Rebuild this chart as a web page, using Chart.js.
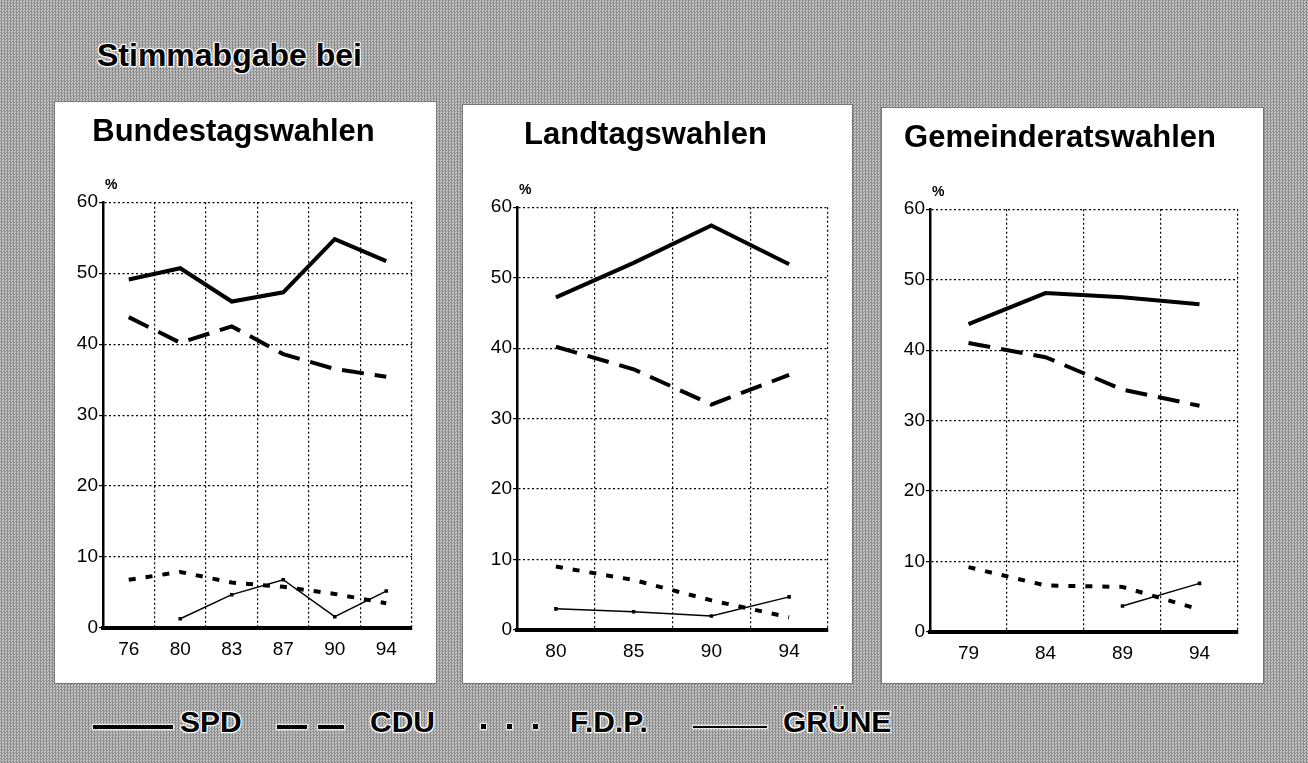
<!DOCTYPE html>
<html>
<head>
<meta charset="utf-8">
<script src="https://cdn.jsdelivr.net/npm/chart.js@4/dist/chart.umd.min.js"></script>
<style>
  html, body { margin: 0; padding: 0; }
  body {
    width: 1308px; height: 763px; overflow: hidden; position: relative;
    background-color: #a8a8a8;
    background-image: repeating-conic-gradient(#8c8c8c 0 25%, #c6c6c6 0 50%);
    background-size: 3px 3px;
    font-family: "Liberation Sans", Arial, sans-serif;
  }
  .halo { color: #000; font-weight: bold;
    text-shadow: 0 0 2px #fff, 1px 1px 1px #fff, -1px -1px 1px #fff, 1px -1px 1px #fff, -1px 1px 1px #fff; }
  #mainTitle { position: absolute; left: 97px; top: 36px; font-size: 32px; line-height: 38px; }
  .panel { position: absolute; background: #fff; box-shadow: 0 0 0 1px #777; }
  .lg { position: absolute; }
  .lgText { position: absolute; top: 705px; font-size: 30px; line-height: 34px; }
</style>
</head>
<body>
<div id="mainTitle" class="halo">Stimmabgabe bei</div>

<div class="panel" style="left:55px; top:102px; width:381px; height:581px;"><canvas id="bund"></canvas></div>
<div class="panel" style="left:463px; top:105px; width:389px; height:578px;"><canvas id="land"></canvas></div>
<div class="panel" style="left:882px; top:108px; width:381px; height:575px;"><canvas id="gem"></canvas></div>

<!-- legend -->
<div class="lg" style="left:93px; top:725px; width:80px; height:4px; background:#000; box-shadow:0 0 2px 1px #fff;"></div>
<div class="lgText halo" style="left:180px;">SPD</div>
<div class="lg" style="left:277px; top:725px; width:30px; height:4px; background:#000; box-shadow:0 0 2px 1px #fff;"></div>
<div class="lg" style="left:318px; top:725px; width:26px; height:4px; background:#000; box-shadow:0 0 2px 1px #fff;"></div>
<div class="lgText halo" style="left:370px;">CDU</div>
<div class="lg" style="left:481px; top:724px; width:5px; height:5px; background:#000; box-shadow:0 0 2px 1px #fff;"></div>
<div class="lg" style="left:507px; top:724px; width:5px; height:5px; background:#000; box-shadow:0 0 2px 1px #fff;"></div>
<div class="lg" style="left:533px; top:724px; width:5px; height:5px; background:#000; box-shadow:0 0 2px 1px #fff;"></div>
<div class="lgText halo" style="left:570px;">F.D.P.</div>
<div class="lg" style="left:693px; top:726px; width:74px; height:2px; background:#000; box-shadow:0 0 2px 1px #fff;"></div>
<div class="lgText halo" style="left:783px;">GRÜNE</div>

<script>
// Bundestagswahlen
const bundYears  = ['76', '80', '83', '87', '90', '94'];
const bundSPD    = [49.1, 50.7, 46.0, 47.3, 54.8, 51.7];
const bundCDU    = [43.8, 40.2, 42.5, 38.6, 36.5, 35.4];
const bundFDP    = [6.8, 7.9, 6.4, 5.8, 4.8, 3.5];
const bundGRUENE = [null, 1.3, 4.7, 6.8, 1.6, 5.2];

// Landtagswahlen
const landYears  = ['80', '85', '90', '94'];
const landSPD    = [47.2, 52.1, 57.4, 51.9];
const landCDU    = [40.2, 37.0, 32.0, 36.2];
const landFDP    = [9.0, 7.1, 4.2, 1.8];
const landGRUENE = [3.0, 2.6, 2.0, 4.7];

// Gemeinderatswahlen
const gemYears   = ['79', '84', '89', '94'];
const gemSPD     = [43.7, 48.1, 47.5, 46.5];
const gemCDU     = [41.0, 39.0, 34.4, 32.1];
const gemFDP     = [9.2, 6.6, 6.4, 3.2];
const gemGRUENE  = [null, null, 3.7, 6.9];

const yTicks = [0, 10, 20, 30, 40, 50, 60];

const percentLabel = {
  id: 'percentLabel',
  afterDraw(chart) {
    const { ctx, chartArea } = chart;
    ctx.save();
    ctx.font = 'bold 14px "Liberation Sans", Arial';
    ctx.fillStyle = '#000';
    ctx.textAlign = 'left';
    ctx.textBaseline = 'bottom';
    ctx.fillText('%', chartArea.left + 2, chartArea.top - 10);
    ctx.restore();
  }
};

function makeChart(id, title, years, spd, cdu, fdp, gruene, pad) {
  new Chart(document.getElementById(id), {
    type: 'line',
    data: {
      labels: years,
      datasets: [
        { label: 'SPD', data: spd, borderColor: '#000', borderWidth: 4, pointRadius: 0, tension: 0 },
        { label: 'CDU', data: cdu, borderColor: '#000', borderWidth: 4, borderDash: [22, 11], pointRadius: 0, tension: 0 },
        { label: 'F.D.P.', data: fdp, borderColor: '#000', borderWidth: 4, borderDash: [7, 10], pointRadius: 0, tension: 0 },
        { label: 'GRÜNE', data: gruene, borderColor: '#000', borderWidth: 1.5, pointStyle: 'rect',
          pointRadius: 2.5, pointBackgroundColor: '#000', pointBorderWidth: 0, spanGaps: false, tension: 0 }
      ]
    },
    options: {
      responsive: true,
      maintainAspectRatio: false,
      animation: false,
      layout: { padding: { left: 0, right: pad.right, top: 0, bottom: pad.bottom } },
      plugins: {
        legend: { display: false },
        tooltip: { enabled: false },
        title: {
          display: true,
          text: title,
          color: '#000',
          font: { family: '"Liberation Sans", Arial', size: 31, weight: 'bold' },
          padding: { top: pad.titleTop, bottom: pad.titleBottom }
        }
      },
      scales: {
        x: {
          offset: true,
          grid: { offset: true, color: '#000', lineWidth: 1.2, drawTicks: false },
          border: { display: true, color: '#000', width: 4, dash: [2, 2.5] },
          ticks: { color: '#000', padding: 10, font: { family: '"Liberation Sans", Arial', size: 19 } },
          afterFit: s => { s.height = 40; }
        },
        y: {
          min: 0,
          max: 60,
          afterBuildTicks: s => { s.ticks = yTicks.map(v => ({ value: v })); },
          grid: { color: '#000', lineWidth: 1.2, tickLength: 4, tickColor: '#000' },
          border: { display: true, color: '#000', width: 2.5, dash: [2, 2.5] },
          ticks: { color: '#000', padding: 1, font: { family: '"Liberation Sans", Arial', size: 19 } },
          afterFit: s => { s.width = pad.left; }
        }
      }
    },
    plugins: [percentLabel]
  });
}

makeChart('bund', 'Bundestagswahlen', bundYears, bundSPD, bundCDU, bundFDP, bundGRUENE,
  { left: 48, right: 24, bottom: 15, titleTop: 12, titleBottom: 51 });
makeChart('land', 'Landtagswahlen', landYears, landSPD, landCDU, landFDP, landGRUENE,
  { left: 54, right: 24, bottom: 13, titleTop: 12, titleBottom: 53 });
makeChart('gem', 'Gemeinderatswahlen', gemYears, gemSPD, gemCDU, gemFDP, gemGRUENE,
  { left: 48, right: 25, bottom: 11, titleTop: 12, titleBottom: 52 });
</script>
</body>
</html>
